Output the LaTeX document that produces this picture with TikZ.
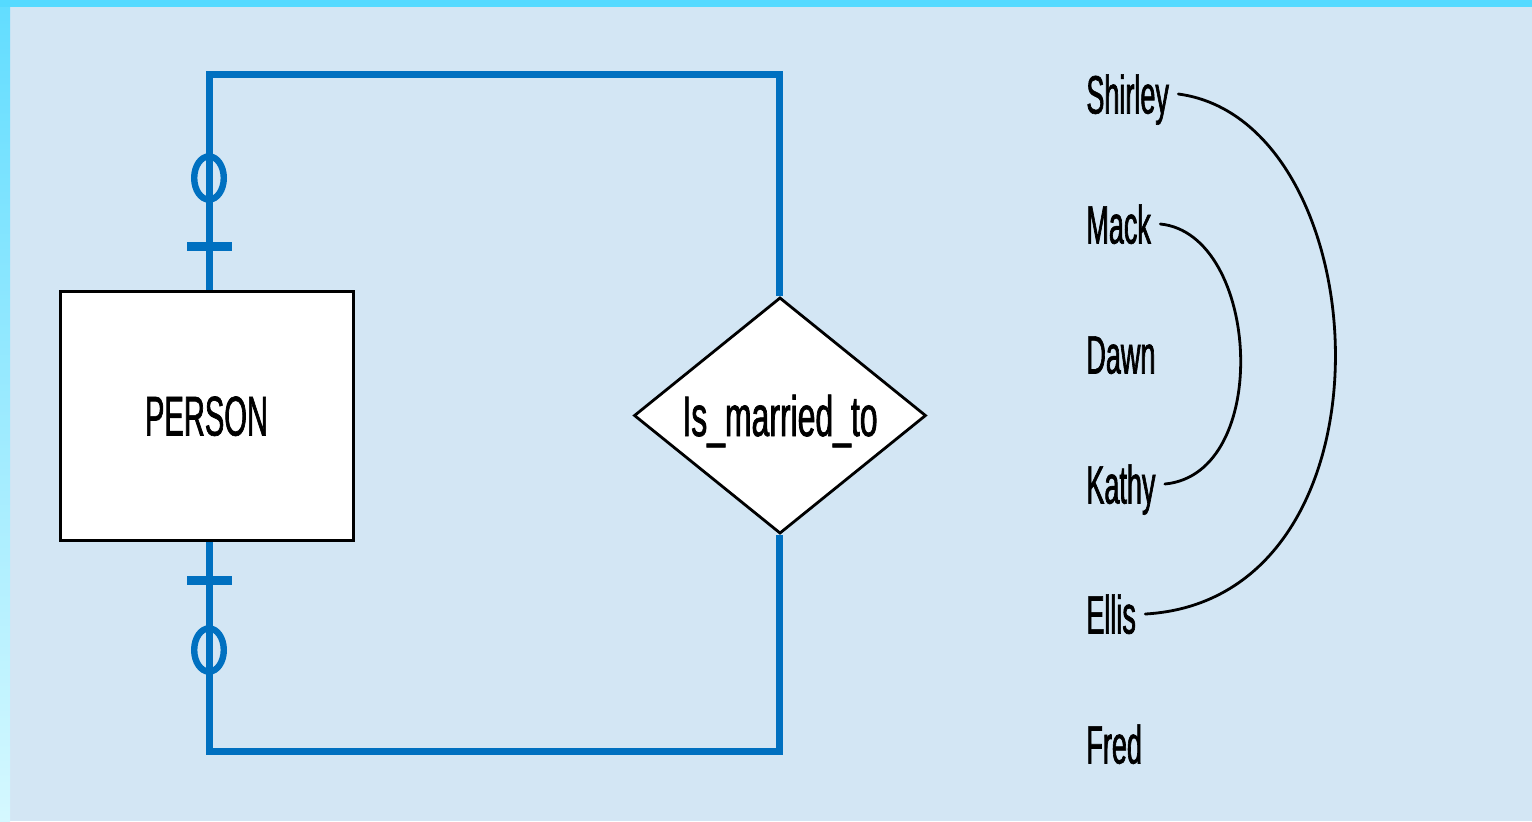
\documentclass[tikz,border=0pt]{standalone}
\usepackage{fontspec}
\setmainfont{Liberation Sans}
\newfontfamily\narrowfont[FakeStretch=0.52,FakeBold=1.2]{Liberation Sans}
\newfontfamily\namefont[FakeStretch=0.50,FakeBold=1.2]{Liberation Sans}
\newfontfamily\relfont[FakeStretch=0.56,FakeBold=1.2]{Liberation Sans}
\usetikzlibrary{shapes.geometric}

\definecolor{bgblue}{HTML}{D3E6F4}
\definecolor{erblue}{HTML}{0070C0}
\definecolor{bandtop}{HTML}{55DAFF}
\definecolor{bandbottom}{HTML}{D5F8FF}

\begin{document}
\begin{tikzpicture}[x=0.5pt,y=-0.5pt,
  entity/.style={draw=black, line width=1.5pt, fill=white,
    minimum width=146.5pt, minimum height=124.5pt, inner sep=0pt,
    text height=20pt, text depth=0pt,
    font=\narrowfont\fontsize{28}{28}\selectfont},
  relation/.style={diamond, draw=black, line width=1.4pt, fill=white,
    minimum width=146pt, minimum height=117.5pt, inner sep=0pt,
    text height=20.5pt, text depth=0pt,
    font=\relfont\fontsize{28.5}{28.5}\selectfont},
  person name/.style={anchor=west, inner xsep=4.5pt, inner ysep=0pt,
    text height=19.5pt, text depth=0pt,
    font=\namefont\fontsize{27}{27}\selectfont},
  erline/.style={draw=erblue, line width=3.5pt, line join=miter},
  optmark/.style={draw=erblue, line width=3.2pt},
  onemark/.style={draw=erblue, line width=4.5pt},
  pairing/.style={draw=black, line width=1.4pt, line cap=round},
]
% canvas and frame bands
\useasboundingbox (0,0) rectangle (1532,821);
\fill[bgblue] (0,0) rectangle (1532,821);
\shade[top color=bandtop!92!white, bottom color=bandbottom] (0,7) rectangle (10,821);
\fill[bandtop] (0,0) rectangle (1532,7);

% corners of the recursive relationship loop
\coordinate (tl) at (209,74);
\coordinate (tr) at (779,74);
\coordinate (bl) at (209,751);
\coordinate (br) at (779,751);

% entity and relationship
\node[entity] (person) at (206.5,415.5) {PERSON};
\node[relation] (rel) at (780,415.5) {Is\_married\_to};

% loop lines
\draw[erline] (person.north -| tl) -- (tl) -- (tr) -- (rel.north -| tr);
\draw[erline] (person.south -| bl) -- (bl) -- (br) -- (rel.south -| br);

% optional / mandatory-one cardinality marks
\draw[optmark] (209,178) ellipse [x radius=7.4pt, y radius=10.8pt];
\draw[onemark] (187,246) -- (232,246);
\draw[onemark] (187,580) -- (232,580);
\draw[optmark] (209,650) ellipse [x radius=7.4pt, y radius=10.8pt];

% redraw entity borders over line ends
\node[entity] at (206.5,415.5) {PERSON};

% sample instances
\node[person name] (shirley) at (1077,94)  {Shirley};
\node[person name] (mack)    at (1077,224) {Mack};
\node[person name] (dawn)    at (1077,354) {Dawn};
\node[person name] (kathy)   at (1077,484) {Kathy};
\node[person name] (ellis)   at (1077,614) {Ellis};
\node[person name] (fred)    at (1077,744) {Fred};

% married pairs
\draw[pairing] (shirley.east) .. controls +(202,27) and +(261,-15) .. (ellis.east);
\draw[pairing] (mack.east) .. controls +(100,10) and +(108,-10) .. (kathy.east);
\end{tikzpicture}
\end{document}
